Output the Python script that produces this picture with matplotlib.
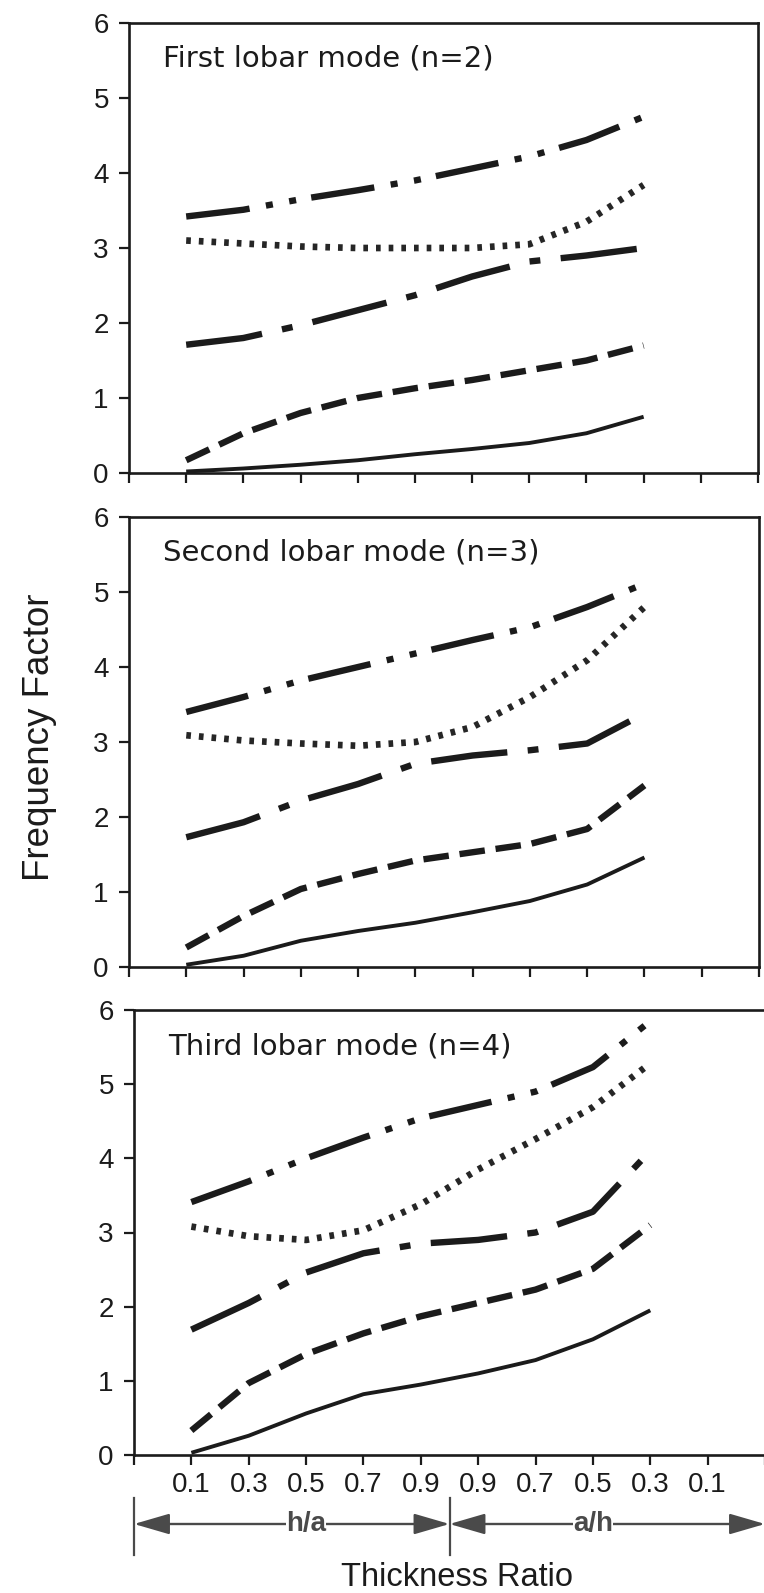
import matplotlib
matplotlib.use("Agg")
import matplotlib.pyplot as plt
import numpy as np

plt.rcParams['font.family'] = ['Liberation Sans', 'DejaVu Sans']

# ---- data -------------------------------------------------------------
tick_labels = ['0.1', '0.3', '0.5', '0.7', '0.9', '0.9', '0.7', '0.5', '0.3', '0.1']
# curves are sampled at h/a = 0.1 .. 0.9 and a/h = 0.9 .. 0.3 (first 9 tick labels)
panel_titles = ['First lobar mode (n=2)', 'Second lobar mode (n=3)', 'Third lobar mode (n=4)']

p1_solid    = [0.02, 0.06, 0.11, 0.17, 0.25, 0.32, 0.40, 0.53, 0.75]
p1_dashed   = [0.17, 0.53, 0.80, 1.00, 1.13, 1.24, 1.37, 1.50, 1.70]
p1_dashdot  = [1.71, 1.80, 1.97, 2.17, 2.37, 2.62, 2.82, 2.90, 3.00]
p1_dotted   = [3.10, 3.06, 3.02, 3.00, 3.00, 3.00, 3.05, 3.35, 3.84]
p1_dashdot2 = [3.42, 3.51, 3.65, 3.77, 3.90, 4.06, 4.22, 4.44, 4.75]

p2_solid    = [0.03, 0.15, 0.35, 0.48, 0.59, 0.73, 0.88, 1.10, 1.46]
p2_dashed   = [0.26, 0.68, 1.04, 1.24, 1.42, 1.53, 1.64, 1.84, 2.42]
p2_dashdot  = [1.73, 1.93, 2.22, 2.44, 2.71, 2.82, 2.89, 2.98, 3.38]
p2_dotted   = [3.09, 3.02, 2.98, 2.95, 3.00, 3.20, 3.60, 4.09, 4.80]
p2_dashdot2 = [3.40, 3.60, 3.82, 4.00, 4.18, 4.36, 4.53, 4.80, 5.11]

p3_solid    = [0.03, 0.26, 0.56, 0.82, 0.95, 1.10, 1.28, 1.56, 1.95]
p3_dashed   = [0.33, 0.97, 1.36, 1.64, 1.87, 2.05, 2.23, 2.51, 3.10]
p3_dashdot  = [1.69, 2.05, 2.46, 2.72, 2.85, 2.90, 3.00, 3.28, 4.10]
p3_dotted   = [3.08, 2.95, 2.90, 3.03, 3.38, 3.85, 4.26, 4.69, 5.28]
p3_dashdot2 = [3.41, 3.69, 4.00, 4.28, 4.54, 4.72, 4.90, 5.23, 5.85]

panels = [
    [p1_solid, p1_dashed, p1_dashdot, p1_dotted, p1_dashdot2],
    [p2_solid, p2_dashed, p2_dashdot, p2_dotted, p2_dashdot2],
    [p3_solid, p3_dashed, p3_dashdot, p3_dotted, p3_dashdot2],
]

# ---- styles -----------------------------------------------------------
INK = '#1b1b1b'
styles = [
    dict(lw=2.8, ls='-'),
    dict(lw=4.6, dashes=(4.0, 1.7)),
    dict(lw=4.6, dashes=(12.0, 3.2, 1.7, 3.2)),
    dict(lw=4.8, dashes=(0.7, 1.2), color='#262626'),
    dict(lw=4.6, dashes=(10.0, 2.6, 1.1, 2.6, 1.1, 2.4)),
]

W, H = 764, 1593
fig = plt.figure(figsize=(W / 100, H / 100), dpi=100)
fig.patch.set_facecolor('white')

rects = [
    (129, 23, 758, 473),
    (129, 517, 759, 967),
    (134, 1010, 765, 1455),
]

xpos_all = np.arange(0, len(tick_labels) + 2)   # spine-to-spine tick positions
xdata = np.arange(1, 10)

axes = []
for i, (l, t, r, b) in enumerate(rects):
    ax = fig.add_axes([l / W, 1 - b / H, (r - l) / W, (b - t) / H])
    axes.append(ax)
    ax.set_xlim(0, len(tick_labels) + 1)
    ax.set_ylim(0, 6)
    for sp in ax.spines.values():
        sp.set_linewidth(1.9)
        sp.set_color(INK)
    ax.set_yticks(range(0, 7))
    ax.set_xticks(xpos_all)
    if i == 2:
        ax.set_xticklabels([''] + tick_labels + [''])
    else:
        ax.set_xticklabels([])
    ax.tick_params(axis='both', direction='out', length=7.5, width=1.6,
                   color=INK, labelsize=20, labelcolor=INK)
    ax.tick_params(axis='y', pad=7)
    ax.tick_params(axis='x', pad=5)
    for ys, st in zip(panels[i], styles):
        kw = dict(color=INK)
        kw.update(st)
        ax.plot(xdata, ys, solid_capstyle='butt', dash_capstyle='butt', **kw)
    ax.text(0.054, 1 - 44 / (b - t), panel_titles[i], transform=ax.transAxes,
            fontsize=21, color=INK, ha='left', va='baseline',
            family=['DejaVu Sans'])

# ---- bottom h/a | a/h annotation -------------------------------------
ax3 = axes[2]
tr = ax3.get_xaxis_transform()
h3 = rects[2][3] - rects[2][1]
y_arrow = -69 / h3
y_bar_top = -43 / h3
y_bar_bot = -100 / h3
GRAY = '#4a4a4a'
mid = 5.5
for xb in (0, mid):
    ax3.plot([xb, xb], [y_bar_top, y_bar_bot], transform=tr, color=GRAY, lw=1.6,
             clip_on=False)
arrow_kw = dict(arrowstyle='-|>,head_length=1.1,head_width=0.32', color=GRAY,
                lw=1.7, shrinkA=0, shrinkB=0, mutation_scale=20)
for (x0, x1, lab, xc) in [(0, mid, 'h/a', 3.0), (mid, len(tick_labels) + 1, 'a/h', 8.0)]:
    ax3.annotate('', xy=(x0, y_arrow), xytext=(xc, y_arrow), xycoords=tr,
                 textcoords=tr, arrowprops=arrow_kw, annotation_clip=False)
    ax3.annotate('', xy=(x1, y_arrow), xytext=(xc, y_arrow), xycoords=tr,
                 textcoords=tr, arrowprops=arrow_kw, annotation_clip=False)
    ax3.text(xc, y_arrow, lab, transform=tr, ha='center', va='center',
             fontsize=20, fontweight='bold', color=GRAY, zorder=5, clip_on=False,
             bbox=dict(facecolor='white', edgecolor='none', pad=0.3))

fig.text(40 / W, 1 - 737 / H, 'Frequency Factor', rotation=90, ha='center',
         va='center', fontsize=26.5, color=INK)
fig.text(457 / W, 1 - 1586 / H, 'Thickness Ratio', ha='center', va='baseline',
         fontsize=23.5, color=INK)

fig.savefig('out.png', dpi=100, facecolor='white')
